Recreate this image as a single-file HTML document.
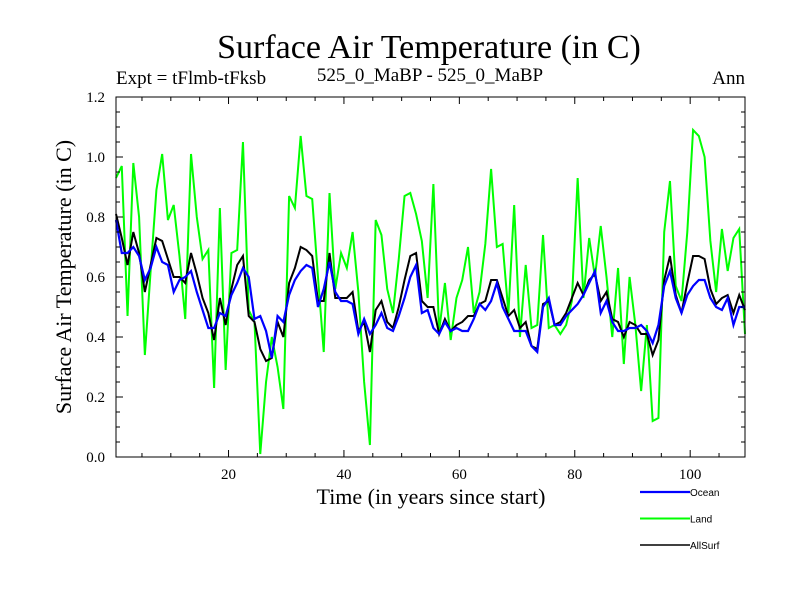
<!DOCTYPE html>
<html><head><meta charset="utf-8"><style>
html,body{margin:0;padding:0;background:#fff;}
svg{display:block;}
.serif{font-family:"Liberation Serif",serif;}
.sans{font-family:"Liberation Sans",sans-serif;}
</style></head><body>
<svg id="chart" width="800" height="600" viewBox="0 0 800 600">
<text class="serif" x="429" y="58" font-size="34" text-anchor="middle">Surface Air Temperature (in C)</text>
<text class="serif" x="116" y="84" font-size="19">Expt = tFlmb-tFksb</text>
<text class="serif" x="430" y="81" font-size="19" text-anchor="middle">525_0_MaBP - 525_0_MaBP</text>
<text class="serif" x="745" y="84" font-size="19" text-anchor="end">Ann</text>
<text class="serif" x="431" y="504" font-size="22" text-anchor="middle">Time (in years since start)</text>
<text class="serif" transform="translate(71,277) rotate(-90)" font-size="22" text-anchor="middle">Surface Air Temperature (in C)</text>
<g id="plot"></g>
<g id="legend"></g>
</svg>
<script>
const ocean=[0.79,0.68,0.68,0.70,0.67,0.59,0.63,0.70,0.65,0.64,0.55,0.59,0.60,0.62,0.55,0.49,0.43,0.43,0.48,0.47,0.54,0.58,0.63,0.60,0.46,0.47,0.42,0.33,0.47,0.45,0.54,0.59,0.62,0.64,0.63,0.50,0.56,0.65,0.55,0.52,0.52,0.51,0.41,0.46,0.41,0.44,0.48,0.43,0.42,0.47,0.53,0.60,0.64,0.48,0.49,0.43,0.41,0.45,0.42,0.43,0.42,0.42,0.46,0.51,0.49,0.52,0.58,0.50,0.46,0.42,0.42,0.42,0.37,0.35,0.50,0.53,0.44,0.44,0.47,0.49,0.51,0.54,0.58,0.62,0.48,0.52,0.45,0.42,0.42,0.43,0.43,0.44,0.42,0.38,0.44,0.57,0.62,0.53,0.48,0.54,0.57,0.59,0.59,0.53,0.50,0.49,0.53,0.44,0.50,0.50];
const land=[0.93,0.97,0.47,0.98,0.80,0.34,0.62,0.89,1.01,0.79,0.84,0.67,0.46,1.01,0.80,0.66,0.69,0.23,0.83,0.29,0.68,0.69,1.05,0.49,0.45,0.01,0.25,0.40,0.30,0.16,0.87,0.83,1.07,0.87,0.86,0.60,0.35,0.88,0.56,0.68,0.63,0.75,0.55,0.25,0.04,0.79,0.74,0.56,0.48,0.66,0.87,0.88,0.81,0.72,0.53,0.91,0.42,0.58,0.39,0.53,0.59,0.70,0.48,0.55,0.71,0.96,0.70,0.71,0.48,0.84,0.40,0.64,0.43,0.44,0.74,0.43,0.44,0.41,0.44,0.52,0.93,0.53,0.73,0.60,0.77,0.60,0.40,0.63,0.31,0.60,0.44,0.22,0.44,0.12,0.13,0.75,0.92,0.57,0.52,0.75,1.09,1.07,1.00,0.72,0.55,0.76,0.62,0.73,0.76,0.41];
const allsurf=[0.81,0.73,0.64,0.75,0.68,0.55,0.64,0.73,0.72,0.66,0.60,0.60,0.58,0.68,0.61,0.53,0.48,0.39,0.53,0.44,0.56,0.64,0.67,0.47,0.45,0.36,0.32,0.33,0.45,0.40,0.58,0.63,0.70,0.69,0.67,0.52,0.52,0.68,0.53,0.53,0.53,0.55,0.42,0.45,0.35,0.49,0.52,0.45,0.43,0.50,0.59,0.67,0.68,0.52,0.50,0.50,0.41,0.46,0.42,0.44,0.45,0.47,0.47,0.51,0.52,0.59,0.59,0.53,0.47,0.49,0.43,0.45,0.37,0.36,0.51,0.52,0.44,0.45,0.48,0.53,0.58,0.54,0.59,0.61,0.52,0.55,0.46,0.45,0.40,0.45,0.44,0.41,0.41,0.34,0.39,0.59,0.67,0.54,0.48,0.58,0.67,0.67,0.66,0.56,0.51,0.53,0.54,0.48,0.54,0.49];
const xTicks=[20,40,60,80,100];
const yTicks=[0.0,0.2,0.4,0.6,0.8,1.0,1.2];
const seriesNames=["Ocean","Land","AllSurf"];

const NS="http://www.w3.org/2000/svg";
const L=116,R=745,T=97,B=457;
const xMin=0.5,xMax=109.5,yMin=0,yMax=1.2;
function xs(v){return L+(v-xMin)/(xMax-xMin)*(R-L);}
function ys(v){return B-(v-yMin)/(yMax-yMin)*(B-T);}
const plot=document.getElementById('plot');
function mk(tag,attrs,parent){const e=document.createElementNS(NS,tag);for(const k in attrs)e.setAttribute(k,attrs[k]);(parent||plot).appendChild(e);return e;}

function drawSeries(vals,color,name,w){
  const pts=vals.map((v,i)=>xs(i+1-0.5)+','+ys(v)).join(' ');
  const pl=mk('polyline',{points:pts,fill:'none',stroke:color,'stroke-width':w,'stroke-linejoin':'miter'});
  
  
}
drawSeries(land,'#00ff00','land-line',2);
drawSeries(allsurf,'#000000','allsurf-line',2);
drawSeries(ocean,'#0000ff','ocean-line',2.2);

const fr=mk('rect',{x:L,y:T,width:R-L,height:B-T,fill:'none',stroke:'#000','stroke-width':1});



for(let v=5;v<=xMax;v+=5){
  const major=v%20===0;const len=major?7:4;const x=xs(v);
  mk('line',{x1:x,y1:B,x2:x,y2:B-len,stroke:'#000','stroke-width':1});
  mk('line',{x1:x,y1:T,x2:x,y2:T+len,stroke:'#000','stroke-width':1});
}
xTicks.forEach(v=>{
  const t=mk('text',{x:xs(v),y:B+22,'font-size':15,'text-anchor':'middle',class:'serif'});
  t.textContent=String(v);
  
  
});
for(let k=0;k<=24;k++){
  const v=k*0.05;const major=k%4===0;const len=major?7:4;const y=ys(v);
  mk('line',{x1:L,y1:y,x2:L+len,y2:y,stroke:'#000','stroke-width':1});
  mk('line',{x1:R,y1:y,x2:R-len,y2:y,stroke:'#000','stroke-width':1});
}
yTicks.forEach(v=>{
  const t=mk('text',{x:L-11,y:ys(v)+5,'font-size':15,'text-anchor':'end',class:'serif'});
  t.textContent=v.toFixed(1);
  
  
});

const lg=document.getElementById('legend');
const lcolors=['#0000ff','#00ff00','#000000'];
const lw=[2.2,2,1.5];
seriesNames.forEach((n,i)=>{
  const y=492+i*26.5;
  const g=mk('g',{},lg);
  
  
  mk('line',{x1:640,y1:y,x2:690,y2:y,stroke:lcolors[i],'stroke-width':lw[i]},g);
  const t=mk('text',{x:690,y:y+4,'font-size':10,class:'sans'},g);
  t.textContent=n;
});
</script>
</body></html>
